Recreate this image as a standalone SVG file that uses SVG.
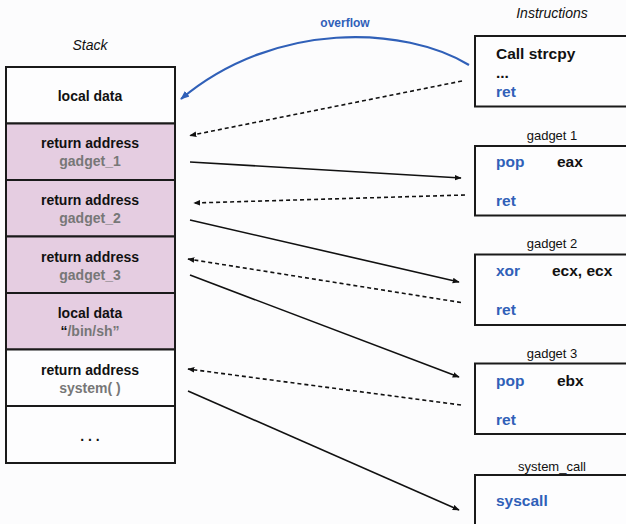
<svg xmlns="http://www.w3.org/2000/svg" width="626" height="524" viewBox="0 0 626 524">
<defs>
<style>
text{font-family:"Liberation Sans",Arial,sans-serif;}
.cell{stroke:#1a1a1a;stroke-width:2;}
.w{fill:#fdfdfe;}
.p{fill:#e5cde1;}
.box{fill:#fdfdfe;stroke:#1a1a1a;stroke-width:2;}
.t1{font-size:14px;font-weight:bold;fill:#111;text-anchor:middle;}
.t2{font-size:14px;font-weight:bold;fill:#777;text-anchor:middle;}
.ital{font-size:14px;font-style:italic;fill:#111;text-anchor:middle;}
.lbl{font-size:13px;fill:#111;text-anchor:middle;}
.ins{font-size:15.5px;font-weight:bold;fill:#111;}
.blue{font-size:15.5px;font-weight:bold;fill:#3060b8;}
.solid{stroke:#111;stroke-width:1.6;fill:none;marker-end:url(#ah);}
.dash{stroke:#111;stroke-width:1.6;fill:none;stroke-dasharray:4 3;marker-end:url(#ah);}
</style>
<marker id="ah" viewBox="0 0 10 10" refX="9" refY="5" markerWidth="7" markerHeight="7" markerUnits="userSpaceOnUse" orient="auto"><path d="M0,1 L10,5 L0,9 Z" fill="#111"/></marker>
<marker id="bh" viewBox="0 0 10 10" refX="9" refY="5" markerWidth="9" markerHeight="9" markerUnits="userSpaceOnUse" orient="auto"><path d="M0,1 L10,5 L0,9 Z" fill="#3060b8"/></marker>
</defs>
<rect x="0" y="0" width="626" height="524" fill="#fcfcfd"/>
<text class="ital" x="90" y="50">Stack</text>
<text class="ital" x="552" y="18">Instructions</text>

<g id="stack">
<g id="s1"><rect class="cell w" x="6" y="67" width="169" height="56.5"/><text class="t1" x="90" y="101">local data</text></g>
<g id="s2"><rect class="cell p" x="6" y="123.5" width="169" height="56.5"/><text class="t1" x="90" y="148">return address</text><text class="t2" x="90" y="166">gadget_1</text></g>
<g id="s3"><rect class="cell p" x="6" y="180" width="169" height="56.5"/><text class="t1" x="90" y="205">return address</text><text class="t2" x="90" y="223">gadget_2</text></g>
<g id="s4"><rect class="cell p" x="6" y="236.5" width="169" height="56.5"/><text class="t1" x="90" y="262">return address</text><text class="t2" x="90" y="280">gadget_3</text></g>
<g id="s5"><rect class="cell p" x="6" y="293" width="169" height="56.5"/><text class="t1" x="90" y="318">local data</text><text class="t2" x="90" y="336"><tspan fill="#111">“</tspan>/bin/sh”</text></g>
<g id="s6"><rect class="cell w" x="6" y="349.5" width="169" height="56.5"/><text class="t1" x="90" y="375">return address</text><text class="t2" x="90" y="393">system( )</text></g>
<g id="s7"><rect class="cell w" x="6" y="406" width="169" height="57"/><text class="t1" x="90" y="441">. . .</text></g>
</g>

<g id="call">
<rect class="box" x="475" y="36" width="160" height="70.5"/>
<text class="ins" x="496" y="59">Call strcpy</text>
<text class="ins" x="496" y="78">...</text>
<text class="blue" x="496" y="97">ret</text>
</g>
<g id="gadget1">
<text class="lbl" x="552" y="140">gadget 1</text>
<rect class="box" x="475" y="146" width="160" height="69.5"/>
<text class="blue" x="496" y="167">pop</text><text class="ins" x="557" y="167">eax</text>
<text class="blue" x="496" y="206">ret</text>
</g>
<g id="gadget2">
<text class="lbl" x="552" y="248">gadget 2</text>
<rect class="box" x="475" y="254.5" width="160" height="70.5"/>
<text class="blue" x="496" y="276">xor</text><text class="ins" x="552" y="276">ecx, ecx</text>
<text class="blue" x="496" y="315">ret</text>
</g>
<g id="gadget3">
<text class="lbl" x="552" y="358">gadget 3</text>
<rect class="box" x="475" y="363.5" width="160" height="70.5"/>
<text class="blue" x="496" y="386">pop</text><text class="ins" x="557" y="386">ebx</text>
<text class="blue" x="496" y="425">ret</text>
</g>
<g id="syscall">
<text class="lbl" x="552" y="471">system_call</text>
<rect class="box" x="475" y="475" width="160" height="70"/>
<text class="blue" x="496" y="506">syscall</text>
</g>

<g id="connectors">
<path d="M469,65 C405,26 275,20 181,99" stroke="#3060b8" stroke-width="2.2" fill="none" marker-end="url(#bh)"/>
<text x="345" y="27" font-size="12px" font-weight="bold" fill="#3060b8" text-anchor="middle">overflow</text>
<line class="dash" x1="462" y1="81" x2="190" y2="135.5"/>
<line class="dash" x1="465" y1="195" x2="194" y2="203"/>
<line class="dash" x1="461" y1="302.5" x2="188" y2="259"/>
<line class="dash" x1="461" y1="405" x2="188" y2="369"/>
<line class="solid" x1="190" y1="162" x2="461" y2="178"/>
<line class="solid" x1="190" y1="220" x2="459" y2="282"/>
<line class="solid" x1="190" y1="275" x2="459" y2="377"/>
<line class="solid" x1="188" y1="391" x2="459" y2="510"/>
</g>
</svg>
